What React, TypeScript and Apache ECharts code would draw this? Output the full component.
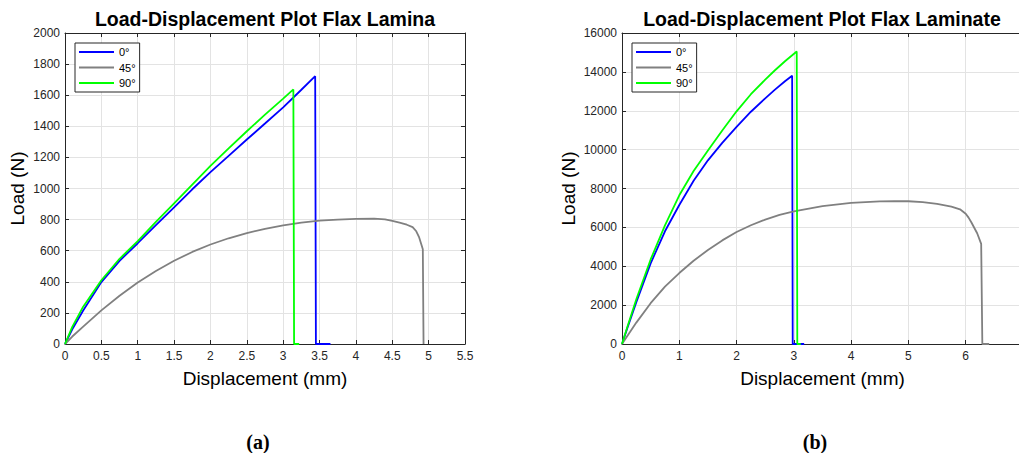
import React, { useEffect, useRef } from 'react';
import * as echarts from 'echarts';

// ---- data ----
const seriesNames = ['0°', '45°', '90°'];
const seriesColors = ['#0000ff', '#808080', '#00ff00'];

const titleLamina = 'Load-Displacement Plot Flax Lamina';
const titleLaminate = 'Load-Displacement Plot Flax Laminate';
const xAxisName = 'Displacement (mm)';
const yAxisName = 'Load (N)';
const panelLabels = ['(a)', '(b)'];

// Lamina (a): [displacement mm, load N]
const lamina0 = [
  [0, 0], [0.1, 95], [0.25, 215], [0.5, 398], [0.75, 535], [1, 648], [1.25, 765],
  [1.5, 878], [1.75, 995], [2, 1105], [2.25, 1210], [2.5, 1315], [2.75, 1418], [3, 1522],
  [3.25, 1635], [3.44, 1722], [3.45, 0], [3.65, 0],
];
const lamina45 = [
  [0, 0], [0.1, 48], [0.25, 112], [0.5, 216], [0.75, 310], [1, 395], [1.25, 470],
  [1.5, 535], [1.75, 592], [2, 640], [2.25, 680], [2.5, 713], [2.75, 741], [3, 763],
  [3.25, 780], [3.5, 793], [3.75, 800], [4, 805], [4.25, 806], [4.4, 801], [4.5, 792],
  [4.6, 780], [4.7, 767], [4.78, 752], [4.83, 725], [4.87, 685], [4.9, 640], [4.92, 610],
  [4.93, 0],
];
const lamina90 = [
  [0, 0], [0.1, 110], [0.25, 240], [0.5, 410], [0.75, 548], [1, 662], [1.25, 785],
  [1.5, 905], [1.75, 1025], [2, 1145], [2.25, 1258], [2.5, 1368], [2.75, 1475], [3, 1578],
  [3.14, 1637], [3.15, 0], [3.22, 0],
];

// Laminate (b)
const laminate0 = [
  [0, 0], [0.1, 880], [0.25, 2150], [0.5, 4150], [0.75, 5800], [1, 7150], [1.25, 8400],
  [1.5, 9450], [1.75, 10350], [2, 11166], [2.25, 11950], [2.5, 12640], [2.67, 13088],
  [2.85, 13530], [2.97, 13800], [2.98, 0], [3.18, 0],
];
const laminate45 = [
  [0, 0], [0.25, 1100], [0.5, 2100], [0.75, 2950], [1, 3650], [1.25, 4280], [1.5, 4840],
  [1.75, 5330], [2, 5760], [2.25, 6110], [2.5, 6400], [2.75, 6640], [3, 6827], [3.5, 7090],
  [4, 7256], [4.5, 7340], [4.75, 7355], [5, 7345], [5.25, 7295], [5.5, 7210], [5.75, 7070],
  [5.9, 6930], [6, 6700], [6.05, 6500], [6.1, 6250], [6.2, 5700], [6.27, 5150],
  [6.29, 0], [6.41, 0],
];
const laminate90 = [
  [0, 0], [0.1, 940], [0.25, 2300], [0.5, 4350], [0.75, 6100], [1, 7650], [1.25, 8900],
  [1.5, 9950], [1.75, 10980], [2, 11970], [2.25, 12850], [2.5, 13600], [2.67, 14083],
  [2.85, 14560], [3.05, 15050], [3.06, 0], [3.12, 0],
];

const laminaXMax = 5.5;
const laminaXInterval = 0.5;
const laminaYMax = 2000;
const laminaYInterval = 200;
const laminateXMax = 7;
const laminateXInterval = 1;
const laminateYMax = 16000;
const laminateYInterval = 2000;

// ---- styling helpers ----
const axisColor = '#262626';
const gridColor = '#e3e3e3';
const font = 'Liberation Sans';

function xAxisOf(gridIndex: number, max: number, interval: number, primary: boolean) {
  return {
    type: 'value',
    gridIndex,
    min: 0,
    max,
    interval,
    position: primary ? 'bottom' : 'top',
    name: primary ? xAxisName : '',
    nameLocation: 'middle',
    nameGap: 25,
    nameTextStyle: { fontSize: 19, color: '#000', fontFamily: font },
    axisLine: { show: true, onZero: false, lineStyle: { color: axisColor, width: 1 } },
    axisTick: { show: true, inside: true, length: 4, lineStyle: { color: axisColor } },
    axisLabel: {
      show: primary, fontSize: 12, color: axisColor, margin: 6, fontFamily: font,
      formatter: (v: number) => String(v),
    },
    splitLine: { show: primary, lineStyle: { color: gridColor, width: 1 } },
  };
}

function yAxisOf(gridIndex: number, max: number, interval: number, primary: boolean, nameGap: number) {
  return {
    type: 'value',
    gridIndex,
    min: 0,
    max,
    interval,
    position: primary ? 'left' : 'right',
    name: primary ? yAxisName : '',
    nameLocation: 'middle',
    nameGap,
    nameTextStyle: { fontSize: 19, color: '#000', fontFamily: font },
    axisLine: { show: true, onZero: false, lineStyle: { color: axisColor, width: 1 } },
    axisTick: { show: true, inside: true, length: 4, lineStyle: { color: axisColor } },
    axisLabel: {
      show: primary, fontSize: 12, color: axisColor, margin: 5, fontFamily: font,
      formatter: (v: number) => String(v),
    },
    splitLine: { show: primary, lineStyle: { color: gridColor, width: 1 } },
  };
}

function legendAt(left: number) {
  return {
    left,
    top: 43,
    orient: 'vertical',
    data: seriesNames,
    icon: 'rect',
    itemWidth: 35,
    itemHeight: 2,
    itemGap: 3.5,
    padding: [3, 4, 3, 4],
    borderColor: axisColor,
    borderWidth: 1,
    borderRadius: 0,
    backgroundColor: '#ffffff',
    selectedMode: false,
    textStyle: { fontSize: 11, lineHeight: 12, color: '#000', fontFamily: font },
  };
}

function lineSeries(name: string, color: string, data: number[][], axisIndex: number) {
  return {
    type: 'line',
    name,
    data,
    xAxisIndex: axisIndex,
    yAxisIndex: axisIndex,
    color,
    showSymbol: false,
    symbol: 'none',
    lineStyle: { color, width: 1.8 },
    itemStyle: { color },
    emphasis: { disabled: true },
  };
}

const laminaSets = [lamina0, lamina45, lamina90];
const laminateSets = [laminate0, laminate45, laminate90];

export default function App() {
  const ref = useRef<HTMLDivElement>(null);
  useEffect(() => {
    if (!ref.current) return;
    const chart = echarts.init(ref.current, null, { renderer: 'svg' });
    const option = {
      animation: false,
      backgroundColor: '#ffffff',
      textStyle: { fontFamily: font },
      grid: [
        { left: 65, top: 33, width: 400, height: 311, containLabel: false },
        { left: 622, top: 33, width: 401, height: 311, containLabel: false },
      ],
      xAxis: [
        xAxisOf(0, laminaXMax, laminaXInterval, true),
        xAxisOf(0, laminaXMax, laminaXInterval, false),
        xAxisOf(1, laminateXMax, laminateXInterval, true),
        xAxisOf(1, laminateXMax, laminateXInterval, false),
      ],
      yAxis: [
        yAxisOf(0, laminaYMax, laminaYInterval, true, 38),
        yAxisOf(0, laminaYMax, laminaYInterval, false, 38),
        yAxisOf(1, laminateYMax, laminateYInterval, true, 44),
        yAxisOf(1, laminateYMax, laminateYInterval, false, 44),
      ],
      legend: [legendAt(75), legendAt(632)],
      series: [
        ...laminaSets.map((d, i) => lineSeries(seriesNames[i], seriesColors[i], d, 0)),
        ...laminateSets.map((d, i) => lineSeries(seriesNames[i], seriesColors[i], d, 2)),
      ],
      graphic: [
        {
          type: 'text', x: 265, y: 19,
          style: { text: titleLamina, align: 'center', verticalAlign: 'middle', fontSize: 19.5, fontWeight: 'bold', fill: '#000', fontFamily: font },
        },
        {
          type: 'text', x: 822, y: 19,
          style: { text: titleLaminate, align: 'center', verticalAlign: 'middle', fontSize: 19.5, fontWeight: 'bold', fill: '#000', fontFamily: font },
        },
        {
          type: 'text', x: 258, y: 442,
          style: { text: panelLabels[0], align: 'center', verticalAlign: 'middle', fontSize: 20, fontWeight: 'bold', fill: '#000', fontFamily: 'Liberation Serif' },
        },
        {
          type: 'text', x: 815, y: 442,
          style: { text: panelLabels[1], align: 'center', verticalAlign: 'middle', fontSize: 20, fontWeight: 'bold', fill: '#000', fontFamily: 'Liberation Serif' },
        },
      ],
    };
    chart.setOption(option as any);
    return () => chart.dispose();
  }, []);
  return (
    <div style={{ position: 'absolute', left: 0, top: 0, width: 1019, height: 453, overflow: 'hidden', background: '#fff' }}>
      <div ref={ref} style={{ width: 1030, height: 453 }} />
    </div>
  );
}
